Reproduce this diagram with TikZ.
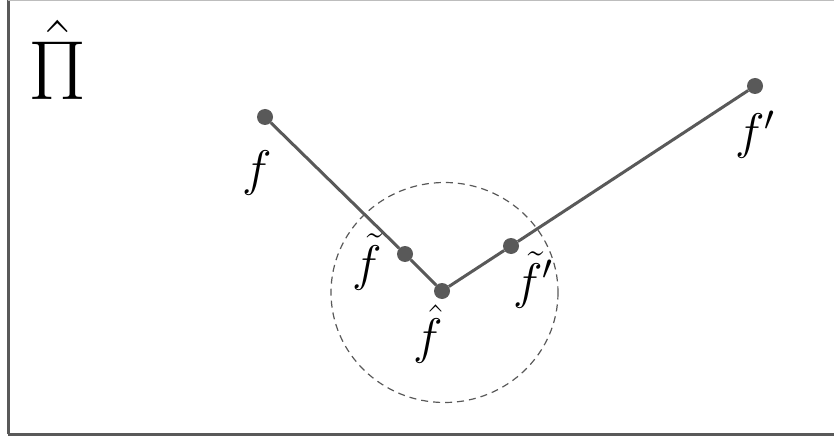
\documentclass[tikz,border=0pt]{standalone}
\usepackage{fix-cm}
\usepackage{amsmath}
\definecolor{lc}{HTML}{595959}
\begin{document}
\begin{tikzpicture}[x=1pt,y=-1pt,
  pt/.style={circle,fill=lc,inner sep=0pt,minimum size=16pt},
  seg/.style={draw=lc,line width=3pt},
  lab/.style={inner sep=0pt,font=\fontsize{50}{60}\selectfont}]
\useasboundingbox (0,0) rectangle (834,438);
\draw[draw=lc,line width=3pt] (8,434) -- (8,0) (8,434) -- (834,434);
\draw[draw=lc!40,line width=1pt] (8,0.5) -- (834,0.5);
\node[inner sep=0pt,font=\fontsize{84}{96}\selectfont] (Pi) at (58,60) {$\hat{\Pi}$};
\draw[lc,dashed,dash pattern=on 7pt off 5pt,line width=1.2pt] (444.5,292.5) ellipse [x radius=113.5,y radius=110];
\node[pt] (f) at (265,117) {};
\node[pt] (fp) at (755,86) {};
\node[pt] (fh) at (442,291) {};
\node[pt] (ft) at (405,254) {};
\node[pt] (ftp) at (511,246) {};
\draw[seg] (f) -- (ft) -- (fh) -- (ftp) -- (fp);
\node[lab] (lf) at (257,173) {$f$};
\node[lab] (lfp) at (755,135) {$f'$};
\node[lab] (lft) at (367,262) {$\tilde{f}$};
\node[lab] (lfh) at (428,334) {$\hat{f}$};
\node[lab] (lftp) at (533,280) {$\tilde{f}'$};
\end{tikzpicture}
\end{document}
